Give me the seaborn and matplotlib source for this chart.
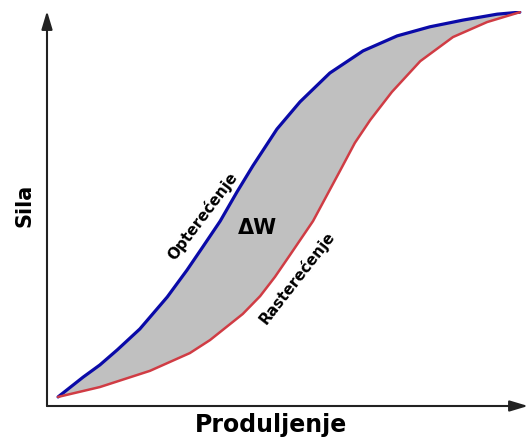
import matplotlib
matplotlib.use("Agg")
import matplotlib.pyplot as plt
import seaborn as sns
import pandas as pd

sns.set_style("white")
plt.rcParams['font.family'] = ['DejaVu Sans']

# Loading curve (Opterecenje)
load_x = [2.3, 7.5, 11.0, 14.6, 19.3, 25.0, 29.1, 32.4, 36.0, 39.5, 42.8, 47.8,
          52.6, 58.8, 65.7, 72.8, 79.6, 86.5, 93.6, 98.3]
load_y = [2.3, 7.3, 10.4, 14.2, 19.5, 27.6, 34.4, 40.3, 46.8, 54.2, 60.8, 70.1,
          77.0, 84.3, 89.9, 93.7, 96.0, 97.7, 99.2, 99.7]

# Unloading curve (Rasterecenje)
unload_x = [2.3, 11.0, 21.4, 29.7, 33.9, 40.7, 44.3, 47.4, 50.5, 55.3, 60.9,
            64.0, 67.2, 71.7, 77.6, 84.4, 91.5, 98.3]
unload_y = [2.3, 4.8, 8.9, 13.4, 16.7, 23.3, 27.8, 32.7, 38.2, 46.8, 59.5,
            66.6, 72.4, 79.5, 87.3, 93.4, 97.2, 99.7]

load = pd.DataFrame({'x': load_x, 'y': load_y})
unload = pd.DataFrame({'x': unload_x, 'y': unload_y})

fig = plt.figure(figsize=(5.3, 4.39), dpi=100)
ax = fig.add_axes([47 / 530, 32 / 439, 481 / 530, 395 / 439])

# gray area between the curves
ax.fill(load_x + unload_x[::-1], load_y + unload_y[::-1], color='#c0c0c0', lw=0)

sns.lineplot(data=load, x='x', y='y', sort=False, color='#0a0aa8', lw=2.3, ax=ax)
sns.lineplot(data=unload, x='x', y='y', sort=False, color='#d03c44', lw=1.8, ax=ax)

ax.set_xlim(0, 100)
ax.set_ylim(0, 100)
ax.set_xticks([])
ax.set_yticks([])
ax.set_xlabel('')
ax.set_ylabel('')
for s in ax.spines.values():
    s.set_visible(False)

# axes drawn as arrows
arrow = dict(arrowstyle='-|>, head_length=1.0, head_width=0.3', color='#222222',
             lw=1.5, mutation_scale=11, shrinkA=0, shrinkB=0)
ax.annotate('', xy=(1.0, 0), xytext=(0, 0), xycoords='axes fraction', arrowprops=arrow)
ax.annotate('', xy=(0, 1.0), xytext=(0, 0), xycoords='axes fraction', arrowprops=arrow)

ax.text(32.3, 48.3, 'Opterećenje', rotation=53, fontsize=11, fontweight='bold',
        color='black', ha='center', va='center', rotation_mode='anchor')
ax.text(52.0, 32.7, 'Rasterećenje', rotation=52, fontsize=11, fontweight='bold',
        color='black', ha='center', va='center', rotation_mode='anchor')
ax.text(43.7, 45.3, 'ΔW', fontsize=15, fontweight='bold', color='black',
        ha='center', va='center')

fig.text(271 / 530, 1 - 425 / 439, 'Produljenje', fontsize=17, fontweight='bold',
         color='black', ha='center', va='center')
fig.text(24 / 530, 1 - 205 / 439, 'Sila', fontsize=15, fontweight='bold',
         color='black', rotation=90, ha='center', va='center')

fig.savefig('out.png', dpi=100)
